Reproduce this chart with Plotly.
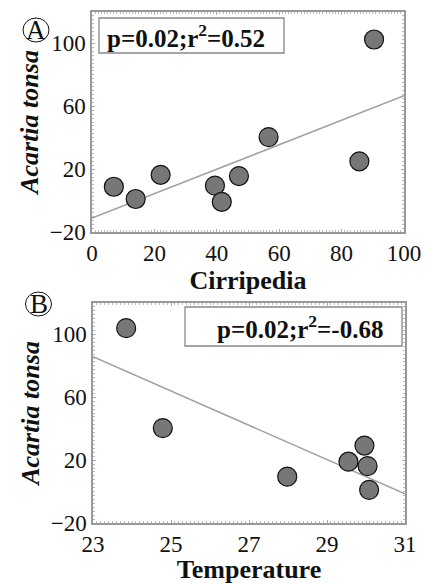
import plotly.graph_objects as go

# Panel A data
cirripedia = [7, 14, 22, 39.4, 41.6, 47.1, 56.6, 85.7, 90.4]
acartia_a = [8.8, 1.0, 16.4, 9.5, -0.8, 15.6, 40.4, 25, 102.5]
fit_a_x = [0, 100]
fit_a_y = [-11.2, 66.7]

# Panel B data
temperature = [23.85, 24.79, 27.98, 29.55, 29.96, 30.04, 30.08]
acartia_b = [104, 40.4, 9.5, 19, 29.3, 16.2, 1.1]
fit_b_x = [23, 31]
fit_b_y = [85.9, -1.5]

y_ticks = [-20, 20, 60, 100]
xa_ticks = [0, 20, 40, 60, 80, 100]
xb_ticks = [23, 25, 27, 29, 31]

W, H = 425, 584
SERIF = "Times New Roman, Liberation Serif, Times, serif"
marker = dict(size=19, color="#777777", line=dict(color="#111111", width=1.2))
line = dict(color="#a0a0a0", width=1.5)

fig = go.Figure()
fig.add_trace(go.Scatter(x=fit_a_x, y=fit_a_y, mode="lines", line=line, xaxis="x", yaxis="y", hoverinfo="skip"))
fig.add_trace(go.Scatter(x=cirripedia, y=acartia_a, mode="markers", marker=marker, xaxis="x", yaxis="y"))
fig.add_trace(go.Scatter(x=fit_b_x, y=fit_b_y, mode="lines", line=line, xaxis="x2", yaxis="y2", hoverinfo="skip"))
fig.add_trace(go.Scatter(x=temperature, y=acartia_b, mode="markers", marker=marker, xaxis="x2", yaxis="y2"))

tickfont = dict(family=SERIF, size=23, color="#111")
titlefont = dict(family=SERIF, size=26, color="#111", weight="bold")
common = dict(showgrid=False, zeroline=False, showline=True, linecolor="#999", linewidth=1.5,
              mirror="ticks", ticks="inside", ticklen=3, tickcolor="#aaa", tickfont=tickfont,
              automargin=False)

fig.update_layout(
    width=W, height=H, margin=dict(l=0, r=0, t=0, b=0),
    paper_bgcolor="white", plot_bgcolor="white", showlegend=False,
    xaxis=dict(domain=[92 / W, 404 / W], range=[0, 100], tickvals=xa_ticks, anchor="y",
               minor=dict(dtick=1, ticks="inside", ticklen=2, tickcolor="#bbb"),
               title=dict(text="Cirripedia", font=titlefont, standoff=2), **common),
    yaxis=dict(domain=[1 - 232 / H, 1 - 12 / H], range=[-20, 120], tickvals=y_ticks, anchor="x",
               minor=dict(dtick=2.5, ticks="inside", ticklen=2, tickcolor="#bbb"),
               title=dict(text="<i>Acartia tonsa</i>", font=titlefont, standoff=4), **common),
    xaxis2=dict(domain=[93 / W, 405 / W], range=[23, 31], tickvals=xb_ticks, anchor="y2",
                minor=dict(dtick=0.1, ticks="inside", ticklen=2, tickcolor="#bbb"),
                title=dict(text="Temperature", font=titlefont, standoff=2), **common),
    yaxis2=dict(domain=[1 - 523 / H, 1 - 303 / H], range=[-20, 120], tickvals=y_ticks, anchor="x2",
                minor=dict(dtick=2.5, ticks="inside", ticklen=2, tickcolor="#bbb"),
                title=dict(text="<i>Acartia tonsa</i>", font=titlefont, standoff=4), **common),
)

statfont = dict(family=SERIF, size=25, color="#111", weight="bold")
for (x0, y0, x1, y1), txt, tx, ty in [
    ((99, 18, 284, 53), "p=0.02;r<sup>2</sup>=0.52", 186, 36),
    ((185, 307, 402, 346), "p=0.02;r<sup>2</sup>=-0.68", 300, 327),
]:
    fig.add_shape(type="rect", xref="paper", yref="paper",
                  x0=x0 / W, x1=x1 / W, y0=1 - y1 / H, y1=1 - y0 / H,
                  line=dict(color="#888", width=1.3), fillcolor="white", layer="below")
    fig.add_annotation(text=txt, xref="paper", yref="paper", x=tx / W, y=1 - ty / H,
                       xanchor="center", yanchor="middle", showarrow=False, font=statfont)

for letter, cx, cy in [("A", 36, 30), ("B", 38.5, 304)]:
    fig.add_shape(type="circle", xref="paper", yref="paper",
                  x0=(cx - 13) / W, x1=(cx + 13) / W,
                  y0=1 - (cy + 12) / H, y1=1 - (cy - 12) / H,
                  line=dict(color="#111", width=1))
    fig.add_annotation(text=letter, xref="paper", yref="paper", x=cx / W, y=1 - cy / H,
                       xanchor="center", yanchor="middle", showarrow=False,
                       font=dict(family=SERIF, size=27, color="#111"))

fig.write_html("out.html")
